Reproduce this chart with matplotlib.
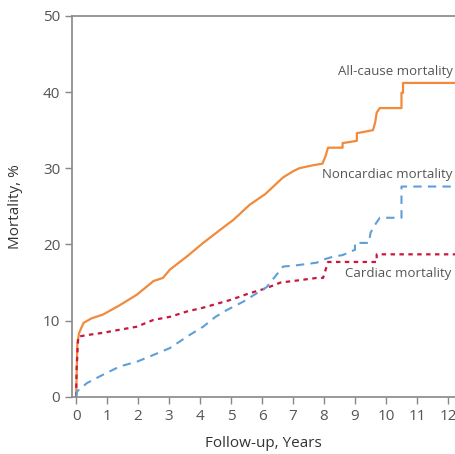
import matplotlib.pyplot as plt

# follow-up times (years) and cumulative mortality (%);
# repeated times mark the visible vertical steps of the Kaplan-Meier curves
all_t = [0, 0.02, 0.04, 0.1, 0.24, 0.5, 0.87, 1.4, 1.96, 2.5, 2.8, 3.03, 3.6, 4.1,
         4.87, 5.07, 5.6, 6.1, 6.68, 7.0, 7.2, 7.65, 7.95, 8.05, 8.13, 8.6, 8.6,
         9.06, 9.06, 9.58, 9.65, 9.7, 9.8, 10.5, 10.5, 10.55, 10.55, 12.23]
all_v = [0, 3.0, 7.0, 8.4, 9.7, 10.3, 10.8, 12.0, 13.4, 15.2, 15.6, 16.7, 18.5,
         20.2, 22.6, 23.2, 25.2, 26.6, 28.8, 29.6, 30.0, 30.4, 30.6, 31.6, 32.7,
         32.7, 33.3, 33.6, 34.6, 35.0, 36.0, 37.3, 37.9, 37.9, 39.9, 39.9, 41.2,
         41.2]

card_t = [0, 0.02, 0.07, 0.35, 0.87, 1.4, 1.96, 2.5, 3.03, 3.58, 4.1, 4.97, 5.6,
          6.1, 6.6, 7.2, 7.76, 7.97, 8.13, 9.7, 9.7, 12.23]
card_v = [0, 4.0, 7.9, 8.1, 8.4, 8.8, 9.2, 10.1, 10.5, 11.2, 11.7, 12.7, 13.6,
          14.2, 15.0, 15.3, 15.6, 15.6, 17.7, 17.7, 18.7, 18.7]

nonc_t = [0, 0.03, 0.35, 0.87, 1.42, 1.96, 2.5, 3.03, 3.58, 4.1, 4.5, 4.87, 5.4,
          6.15, 6.68, 7.0, 7.76, 7.97, 8.3, 8.6, 9.0, 9.0, 9.45, 9.5, 9.6, 9.8,
          10.5, 10.5, 12.23]
nonc_v = [0, 0.7, 1.8, 2.9, 4.0, 4.6, 5.5, 6.4, 7.9, 9.2, 10.5, 11.4, 12.5, 14.4,
          17.1, 17.2, 17.6, 18.0, 18.4, 18.6, 19.3, 20.2, 20.2, 21.5, 22.3, 23.5,
          23.5, 27.6, 27.6]

plt.rcParams['font.family'] = ['Open Sans', 'DejaVu Sans']
gray = '#888888'
text_c = '#555555'

fig = plt.figure(figsize=(4.56, 4.54), dpi=100)
ax = fig.add_axes([0.158, 0.126, 0.84, 0.839])

ax.plot(all_t, all_v, color='#F28A3C', lw=1.6)
ax.plot(card_t, card_v, color='#C8183F', lw=1.6, linestyle=(0, (2, 2)))
ax.plot(nonc_t, nonc_v, color='#5E9FD8', lw=1.5, linestyle=(0, (4, 3)))

ax.text(12.15, 41.9, 'All-cause mortality', ha='right', va='bottom',
        fontsize=9.5, color=text_c)
ax.text(12.15, 28.3, 'Noncardiac mortality', ha='right', va='bottom',
        fontsize=9.5, color=text_c)
ax.text(12.1, 16.2, 'Cardiac mortality', ha='right', va='center',
        fontsize=9.5, color=text_c)

ax.set_xlim(-0.13, 12.23)
ax.set_ylim(0, 50)
ax.set_xticks(range(0, 13))
ax.set_yticks(range(0, 51, 10))
ax.set_xlabel('Follow-up, Years', fontsize=11, color='#333333', labelpad=9)
ax.set_ylabel('Mortality, %', fontsize=11, color='#333333', labelpad=14)

ax.spines['right'].set_visible(False)
for s in ['left', 'bottom', 'top']:
    ax.spines[s].set_color(gray)
    ax.spines[s].set_linewidth(1.2)
ax.tick_params(colors=gray, labelcolor=text_c, labelsize=11, length=5,
               width=1)

fig.savefig('out.png', dpi=100)
